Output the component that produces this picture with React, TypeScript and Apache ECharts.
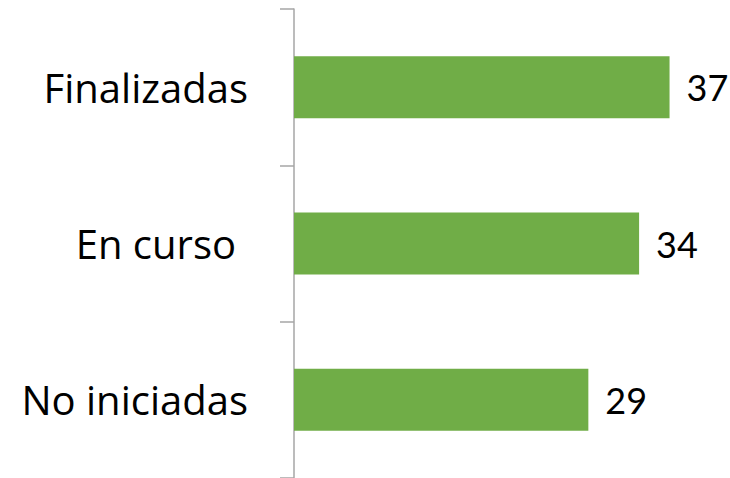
import React, { useEffect, useRef } from "react";
import * as echarts from "echarts";

const categories = ["Finalizadas", "En curso", "No iniciadas"];
const values = [37, 34, 29];

export default function App() {
  const ref = useRef<HTMLDivElement>(null);
  useEffect(() => {
    if (!ref.current) return;
    const chart = echarts.init(ref.current, null, { renderer: "svg" });
    chart.setOption({
      animation: false,
      backgroundColor: "#ffffff",
      grid: { left: 294, right: 30, top: 9, bottom: 0, containLabel: false },
      xAxis: {
        type: "value",
        min: 0,
        max: 40,
        show: false,
      },
      yAxis: {
        type: "category",
        data: categories,
        inverse: true,
        axisLine: { show: true, lineStyle: { color: "#A6A6A6", width: 1.5 } },
        axisTick: { show: true, length: 14, lineStyle: { color: "#A6A6A6", width: 1.5 } },
        axisLabel: {
          margin: 46,
          fontFamily: "Open Sans",
          fontSize: 40,
          color: "#000000",
          formatter: (v: string) => (v === "En curso" ? `{b|${v}}` : `{a|${v}}`),
          rich: {
            a: { fontFamily: "Open Sans", fontSize: 40, color: "#000000" },
            b: { fontFamily: "Open Sans", fontSize: 40, color: "#000000", padding: [0, 12, 0, 0] },
          },
        },
        splitLine: { show: false },
      },
      series: [
        {
          type: "bar",
          data: values,
          barWidth: 62,
          itemStyle: { color: "#70AD47" },
          label: {
            show: true,
            position: "right",
            distance: 17,
            fontFamily: "Lato",
            fontSize: 36,
            color: "#000000",
          },
        },
      ],
    });
    return () => chart.dispose();
  }, []);
  return (
    <div
      ref={ref}
      style={{ position: "absolute", left: 0, top: 0, width: 730, height: 478 }}
    />
  );
}
